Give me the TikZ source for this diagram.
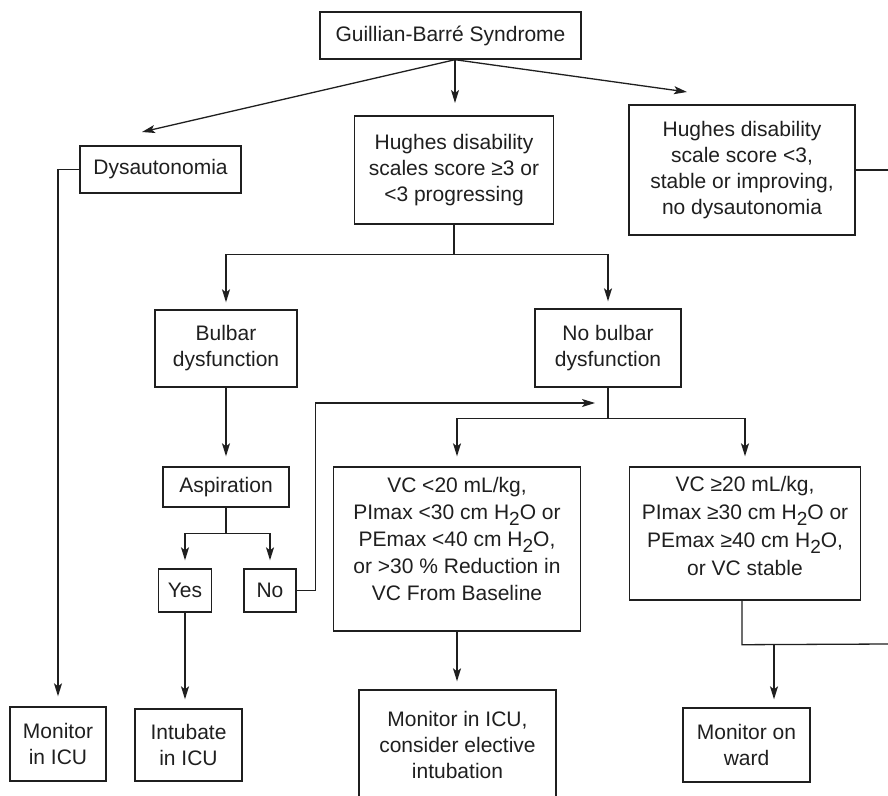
\documentclass[tikz,border=0pt]{standalone}
\usepackage{fontspec}
\setmainfont{Liberation Sans}
\usetikzlibrary{arrows.meta,calc}
\colorlet{ink}{black!88}
% water with a lowered, slightly smaller 2
\newcommand{\water}{H\raisebox{-6pt}{\fontsize{19}{19}\selectfont 2}O}

\begin{document}
\begin{tikzpicture}[x=1pt,y=-1pt,
  box/.style={draw=ink, line width=1.4pt, inner sep=0pt, align=center,
              text=ink, font=\fontsize{21}{26}\selectfont},
  link/.style={draw=ink, line width=1.3pt},
  arr/.style={link, -{Stealth[length=13pt,width=8pt,inset=3pt]}}]

\useasboundingbox (0,0) rectangle (888,795);
\fill[white] (0,0) rectangle (888,795);
\clip (0,0) rectangle (888,795);

% ---------- boxes ----------
\node[box, minimum width=261pt, minimum height=47pt] (gbs) at (450.5,35.5) {Guillian-Barré Syndrome};
\node[box, minimum width=161pt, minimum height=47pt] (dys) at (160.5,169.5) {Dysautonomia};
\node[box, minimum width=199pt, minimum height=108pt] (hd3) at (454,170)
  {Hughes disability\\scales score ≥3 or\\<3 progressing};
\node[box, minimum width=226pt, minimum height=130pt] (hdl) at (742,170)
  {Hughes disability\\scale score <3,\\stable or improving,\\no dysautonomia};
\node[box, minimum width=142pt, minimum height=77pt] (bulb) at (226,348.5) {Bulbar\\dysfunction};
\node[box, minimum width=146pt, minimum height=78pt] (nobulb) at (608,348) {No bulbar\\dysfunction};
\node[box, minimum width=126pt, minimum height=40pt] (asp) at (226,487) {Aspiration};
\node[box, minimum width=53pt, minimum height=43pt] (yes) at (185,590.5) {Yes};
\node[box, minimum width=52pt, minimum height=43pt] (no) at (270,590.5) {No};
\node[box, minimum width=247pt, minimum height=164pt, font=\fontsize{21}{27}\selectfont,
      text depth=20pt] (vclo) at (457,549)
  {VC <20 mL/kg,\\PImax <30 cm \water{} or\\PEmax <40 cm \water,\\or >30 \% Reduction in\\VC From Baseline};
\node[box, minimum width=231pt, minimum height=133pt, font=\fontsize{21}{28}\selectfont,
      text depth=16pt] (vchi) at (745,533.5)
  {VC ≥20 mL/kg,\\PImax ≥30 cm \water{} or\\PEmax ≥40 cm \water,\\or VC stable};
\node[box, minimum width=96pt, minimum height=74pt] (micu) at (58,744) {Monitor\\in ICU};
\node[box, minimum width=107pt, minimum height=72pt] (intub) at (188.5,745) {Intubate\\in ICU};
\node[box, minimum width=197pt, minimum height=110pt] (micuel) at (457.5,745)
  {Monitor in ICU,\\consider elective\\intubation};
\node[box, minimum width=127pt, minimum height=74pt] (ward) at (746.5,745) {Monitor on\\ward};

% ---------- connectors ----------
\coordinate (g0) at ([xshift=4.5pt]gbs.south);
\coordinate (tDys) at (142,132);
\coordinate (tHd3) at (455,103);
\coordinate (tHdl) at (687,92);
\draw[arr] (g0) -- (tDys);
\draw[arr] (g0) -- (tHd3);
\draw[arr] (g0) -- (tHdl);

\draw[arr, shorten >=10pt] (dys.west) -| (micu.north);

\coordinate (rEdge1) at (888,170);
\draw[link] (hdl.east) -- (rEdge1);

\coordinate (j1) at ($(hd3.south)+(0,30)$);
\draw[link] (hd3.south) -- (j1);
\draw[arr, shorten >=7pt] (j1) -| (bulb.north);
\draw[arr, shorten >=7pt] (j1) -| (nobulb.north);

\draw[arr, shorten >=10pt] (bulb.south) -- (asp.north);

\coordinate (j2) at ($(asp.south)+(0,26)$);
\draw[link] (asp.south) -- (j2);
\draw[arr, shorten >=8pt] (j2) -| (yes.north);
\draw[arr, shorten >=8pt] (j2) -| (no.north);

\draw[arr, shorten >=9pt] (yes.south) -- (yes.south |- intub.north);

\coordinate (tNo) at (595,403);
\draw[arr] (no.east) -- ++(19,0) |- (tNo);

\coordinate (j3) at ($(nobulb.south)+(0,31)$);
\draw[link] (nobulb.south) -- (j3);
\draw[arr, shorten >=10pt] (j3) -| (vclo.north);
\draw[arr, shorten >=10pt] (j3) -| (vchi.north);

\draw[arr, shorten >=8pt] (vclo.south) -- (vclo.south |- micuel.north);

\coordinate (j4) at ($(vchi.south)+(-3,44)$);
\coordinate (rEdge2) at (888,644);
\coordinate (j5) at (774,644);
\draw[link] ([xshift=-3pt]vchi.south) -- (j4) -- (rEdge2);
\draw[arr, shorten >=8pt] (j5) -- (j5 |- ward.north);
\end{tikzpicture}
\end{document}
